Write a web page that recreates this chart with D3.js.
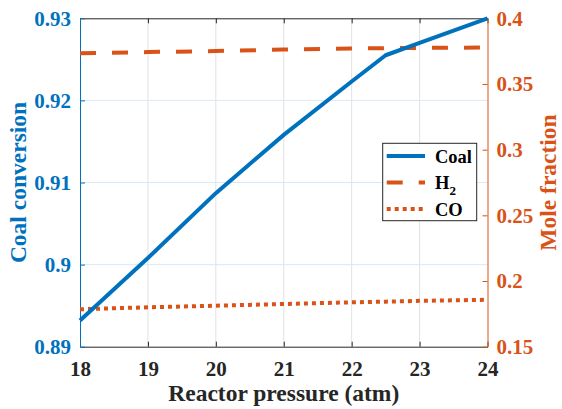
<!DOCTYPE html>
<html>
<head>
<meta charset="utf-8">
<script src="https://cdn.jsdelivr.net/npm/d3@7"></script>
<style>
  html, body { margin: 0; padding: 0; background: #fff; }
  #chart text { font-family: "Liberation Serif", serif; font-weight: bold; }
</style>
</head>
<body>
<svg id="chart" width="562" height="409" font-family="Liberation Serif"></svg>
<script>
// Reactor pressure (atm) and the three responses
const pressure = [18, 19, 20, 21, 22, 22.5, 23, 24];
const coalConversion = [0.8932, 0.9008, 0.9087, 0.9158, 0.9223, 0.9255, 0.9270, 0.9300];
const h2Fraction = [0.3734, 0.3743, 0.3751, 0.3762, 0.3770, 0.3773, 0.3775, 0.3777];
const coFraction = [0.1785, 0.1800, 0.1812, 0.1825, 0.1838, 0.1843, 0.1849, 0.1857];

const xTicks = [18, 19, 20, 21, 22, 23, 24];
const leftTicks = [0.89, 0.90, 0.91, 0.92, 0.93];
const leftTickLabels = ["0.89", "0.9", "0.91", "0.92", "0.93"];
const rightTicks = [0.15, 0.20, 0.25, 0.30, 0.35, 0.40];
const rightTickLabels = ["0.15", "0.2", "0.25", "0.3", "0.35", "0.4"];

const BLUE = "#0072BD";
const ORANGE = "#D95319";
const DARK = "#262626";

const L = 80, R = 487.5, T = 18.3, B = 346.7;
const svg = d3.select("#chart");

const x = d3.scaleLinear().domain([18, 24]).range([L, R]);
const yL = d3.scaleLinear().domain([0.89, 0.93]).range([B, T]);
const yR = d3.scaleLinear().domain([0.15, 0.40]).range([B, T]);

// grid
const grid = svg.append("g");
grid.selectAll("line.vg").data(xTicks.slice(1, -1)).join("line")
  .attr("x1", d => x(d)).attr("x2", d => x(d)).attr("y1", T).attr("y2", B)
  .attr("stroke", "#e2e2e2").attr("stroke-width", 1);
grid.selectAll("line.hg").data(leftTicks.slice(1, -1)).join("line")
  .attr("x1", L).attr("x2", R).attr("y1", d => yL(d)).attr("y2", d => yL(d))
  .attr("stroke", "#d9eaf6").attr("stroke-width", 1);

// axes (ticks point inward)
const tickLen = 5;
const xAxis = d3.axisBottom(x).tickValues(xTicks).tickFormat(d3.format("d"))
  .tickSizeInner(-tickLen).tickSizeOuter(0).tickPadding(14);
const gx = svg.append("g").attr("transform", `translate(0,${B})`).call(xAxis);
gx.select(".domain").attr("stroke", DARK);
gx.selectAll(".tick line").attr("stroke", DARK);
gx.selectAll(".tick text").attr("fill", DARK);

const xTop = d3.axisTop(x).tickValues(xTicks).tickFormat("").tickSizeInner(-tickLen).tickSizeOuter(0);
const gxt = svg.append("g").attr("transform", `translate(0,${T})`).call(xTop);
gxt.select(".domain").attr("stroke", DARK);
gxt.selectAll(".tick line").attr("stroke", DARK);

const leftAxis = d3.axisLeft(yL).tickValues(leftTicks).tickFormat((d, i) => leftTickLabels[i])
  .tickSizeInner(-tickLen).tickSizeOuter(0).tickPadding(9);
const gl = svg.append("g").attr("transform", `translate(${L},0)`).call(leftAxis);
gl.select(".domain").attr("stroke", BLUE);
gl.selectAll(".tick line").attr("stroke", BLUE);
gl.selectAll(".tick text").attr("fill", BLUE);

const rightAxis = d3.axisRight(yR).tickValues(rightTicks).tickFormat((d, i) => rightTickLabels[i])
  .tickSizeInner(-tickLen).tickSizeOuter(0).tickPadding(9);
const gr = svg.append("g").attr("transform", `translate(${R},0)`).call(rightAxis);
gr.select(".domain").attr("stroke", ORANGE);
gr.selectAll(".tick line").attr("stroke", ORANGE);
gr.selectAll(".tick text").attr("fill", ORANGE);

svg.selectAll("g").attr("font-family", "Liberation Serif").attr("font-size", 21);
svg.selectAll(".tick text")
  .attr("font-family", "Liberation Serif").attr("font-weight", "bold").attr("font-size", 21);

// series
const idx = d3.range(pressure.length);
const lineCoal = d3.line().x(i => x(pressure[i])).y(i => yL(coalConversion[i]));
const lineH2 = d3.line().x(i => x(pressure[i])).y(i => yR(h2Fraction[i]));
const lineCO = d3.line().x(i => x(pressure[i])).y(i => yR(coFraction[i]));

svg.append("path").attr("d", lineH2(idx)).attr("fill", "none")
  .attr("stroke", ORANGE).attr("stroke-width", 4).attr("stroke-dasharray", "16,16");
svg.append("path").attr("d", lineCO(idx)).attr("fill", "none")
  .attr("stroke", ORANGE).attr("stroke-width", 4).attr("stroke-dasharray", "4,4");
svg.append("path").attr("d", lineCoal(idx)).attr("fill", "none")
  .attr("stroke", BLUE).attr("stroke-width", 4).attr("stroke-linejoin", "round");

// axis labels
function label(sel) {
  return sel.attr("font-family", "Liberation Serif").attr("font-weight", "bold").attr("font-size", 23.5);
}
label(svg.append("text").attr("x", (L + R) / 2).attr("y", 401).attr("text-anchor", "middle")
  .attr("fill", DARK).text("Reactor pressure (atm)"));
label(svg.append("text").attr("transform", `translate(26,${(T + B) / 2}) rotate(-90)`).attr("text-anchor", "middle")
  .attr("fill", BLUE).text("Coal conversion"));
label(svg.append("text").attr("transform", `translate(556,${(T + B) / 2}) rotate(-90)`).attr("text-anchor", "middle")
  .attr("fill", ORANGE).text("Mole fraction"));

// legend
const legendItems = [
  { name: "Coal", sub: null, color: BLUE, dash: null },
  { name: "H", sub: "2", color: ORANGE, dash: "16,16" },
  { name: "CO", sub: null, color: ORANGE, dash: "4,4" }
];
const lg = svg.append("g");
lg.append("rect").attr("x", 382.7).attr("y", 143.3).attr("width", 94).attr("height", 77.4)
  .attr("fill", "#fff").attr("stroke", DARK).attr("stroke-width", 1);
const ly = d3.scalePoint().domain(legendItems.map(d => d.name)).range([156, 209]);
legendItems.forEach(d => {
  const yy = ly(d.name);
  lg.append("line").attr("x1", 386.7).attr("x2", 425).attr("y1", yy).attr("y2", yy)
    .attr("stroke", d.color).attr("stroke-width", 4).attr("stroke-dasharray", d.dash);
  const t = lg.append("text").attr("x", 435).attr("y", yy + 6.5).attr("fill", "#000")
    .attr("font-family", "Liberation Serif").attr("font-weight", "bold").attr("font-size", 18.5).text(d.name);
  if (d.sub) t.append("tspan").attr("dy", 6).attr("font-size", 13).text(d.sub);
});
</script>
</body>
</html>
